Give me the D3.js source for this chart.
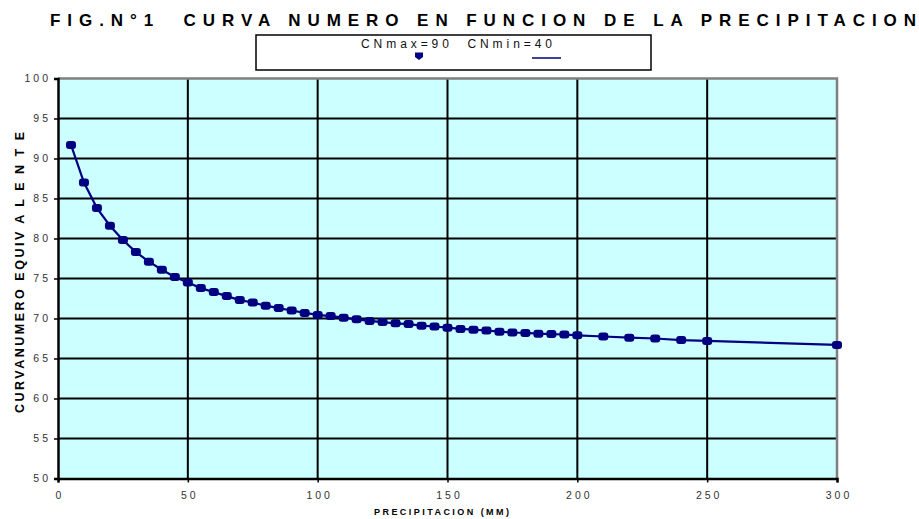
<!DOCTYPE html>
<html><head><meta charset="utf-8">
<script src="https://cdn.jsdelivr.net/npm/d3@7"></script>
<style>body{margin:0;background:#fff}svg{display:block}text{font-family:"Liberation Sans",Arial,sans-serif}</style>
</head><body>
<svg id="c" width="919" height="519"></svg>
<script>
const precip = [5,10,15,20,25,30,35,40,45,50,55,60,65,70,75,80,85,90,95,100,105,110,115,120,125,130,135,140,145,150,155,160,165,170,175,180,185,190,195,200,210,220,230,240,250,300];
const cn = [91.7,87.0,83.8,81.6,79.8,78.3,77.1,76.1,75.2,74.5,73.8,73.3,72.8,72.3,72.0,71.6,71.3,71.0,70.7,70.45,70.3,70.1,69.9,69.7,69.55,69.4,69.3,69.1,69.0,68.85,68.7,68.6,68.5,68.35,68.25,68.2,68.1,68.05,68.0,67.9,67.75,67.6,67.5,67.3,67.2,66.7];
const xTicks = [0,50,100,150,200,250,300];
const yTicks = [50,55,60,65,70,75,80,85,90,95,100];
const title = "FIG.N°1  CURVA NUMERO EN FUNCION DE LA PRECIPITACION";
const legendLabel = "CNmax=90  CNmin=40";
const xTitle = "PRECIPITACION (MM)";
const yTitle = "CURVANUMERO EQUIV A L E N T E";

const svg = d3.select("#c");
const L = 58, R = 837, T = 78.5, B = 478.5;
const x = d3.scaleLinear().domain([0,300]).range([L,R]);
const y = d3.scaleLinear().domain([50,100]).range([B,T]);
const navy = "#000080";

svg.append("rect").attr("x",L).attr("y",T).attr("width",R-L).attr("height",B-T).attr("fill","#ccffff");

svg.append("g").selectAll("line").data(yTicks.filter(d=>d>50 && d<100)).join("line")
  .attr("x1",L).attr("x2",R).attr("y1",d=>y(d)).attr("y2",d=>y(d))
  .attr("stroke","#000").attr("stroke-width",2);
svg.append("g").selectAll("line").data(xTicks.filter(d=>d>0 && d<300)).join("line")
  .attr("y1",T).attr("y2",B).attr("x1",d=>x(d)).attr("x2",d=>x(d))
  .attr("stroke","#000").attr("stroke-width",2);

svg.append("path").attr("d",`M${L},${T}H${R}V${B}`).attr("fill","none").attr("stroke","#808080").attr("stroke-width",2.5);

const yAxis = svg.append("g").attr("transform",`translate(${L},0)`)
  .call(d3.axisLeft(y).tickValues(yTicks).tickSize(4).tickPadding(6).tickFormat(d3.format("d")));
const xAxis = svg.append("g").attr("transform",`translate(0,${B})`)
  .call(d3.axisBottom(x).tickValues(xTicks).tickSize(4).tickPadding(9).tickFormat(d3.format("d")));
[yAxis,xAxis].forEach(g=>{
  g.select(".domain").attr("stroke","#000").attr("stroke-width",2.5);
  g.selectAll(".tick line").attr("stroke","#000").attr("stroke-width",1.5);
  g.selectAll(".tick text").attr("font-size",10.5).attr("fill","#333").style("letter-spacing","3px");
});
yAxis.selectAll(".tick text").attr("dx","3px");
xAxis.selectAll(".tick text").attr("dx","1.5px");

svg.append("path").datum(precip.map((p,i)=>[p,cn[i]]))
  .attr("d",d3.line().x(d=>x(d[0])).y(d=>y(d[1])))
  .attr("fill","none").attr("stroke",navy).attr("stroke-width",2.2);
svg.append("g").selectAll("rect").data(precip.map((p,i)=>[p,cn[i]])).join("rect")
  .attr("x",d=>x(d[0])-5).attr("y",d=>y(d[1])-4).attr("width",10).attr("height",8).attr("rx",3)
  .attr("fill",navy);

svg.append("text").attr("x",50).attr("y",26).attr("font-size",17).attr("font-weight","bold")
  .attr("textLength",866).attr("lengthAdjust","spacing").style("white-space","pre").text(title);

svg.append("rect").attr("x",256).attr("y",35).attr("width",395).attr("height",35)
  .attr("fill","#fff").attr("stroke","#000").attr("stroke-width",1.5);
svg.append("text").attr("x",361).attr("y",47.5).attr("font-size",12).attr("fill","#111")
  .attr("textLength",191).attr("lengthAdjust","spacing").style("white-space","pre").text(legendLabel);
svg.append("path").attr("d","M415,52.5h8v4.5l-4,3l-4,-3z").attr("fill",navy);
svg.append("line").attr("x1",532).attr("x2",561).attr("y1",58).attr("y2",58).attr("stroke",navy).attr("stroke-width",1.5);

svg.append("text").attr("x",374).attr("y",515).attr("font-size",9).attr("font-weight","bold")
  .attr("textLength",135).attr("lengthAdjust","spacing").text(xTitle);
svg.append("text").attr("transform","translate(24,413) rotate(-90)").attr("font-size",12.5).attr("font-weight","bold")
  .attr("textLength",281).attr("lengthAdjust","spacing").text(yTitle);
</script>
</body></html>
